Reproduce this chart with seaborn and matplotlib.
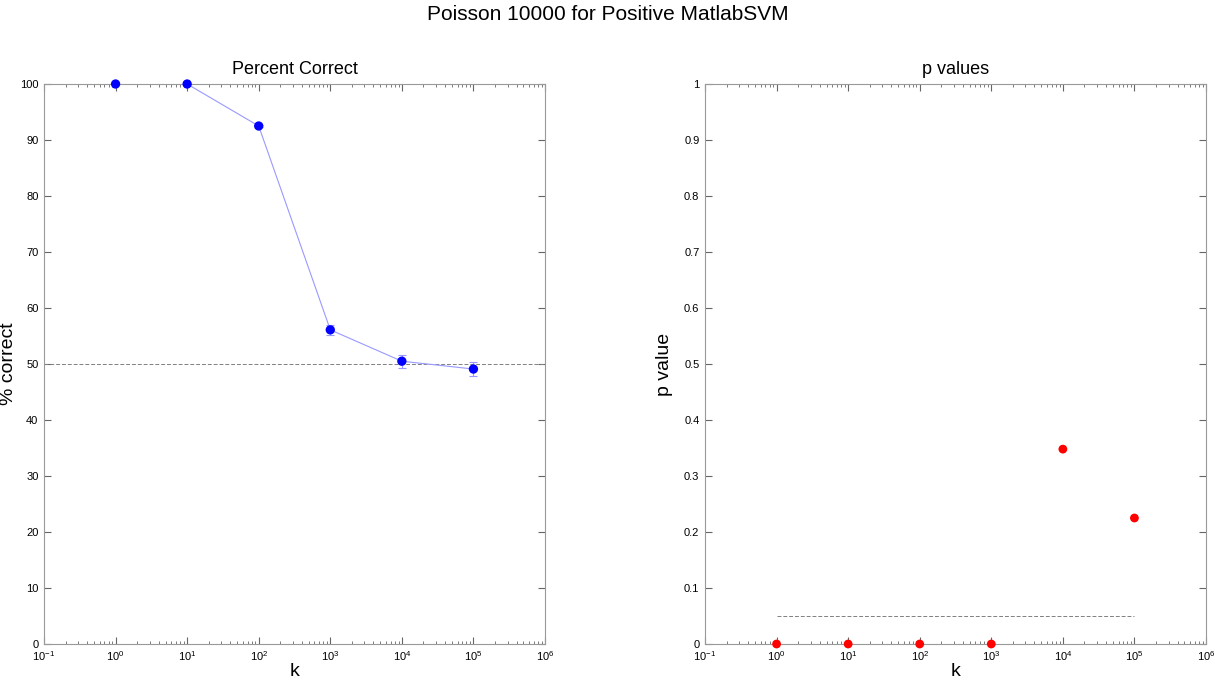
import numpy as np
import pandas as pd
import matplotlib
matplotlib.use('Agg')
import matplotlib.pyplot as plt
import seaborn as sns
from matplotlib.ticker import LogLocator, FixedLocator

sns.set_style("ticks")
plt.rcParams['font.family'] = ['Liberation Sans', 'DejaVu Sans']
plt.rcParams['text.color'] = 'black'
plt.rcParams['axes.labelcolor'] = 'black'
plt.rcParams['xtick.labelcolor'] = 'black'
plt.rcParams['ytick.labelcolor'] = 'black'

k = [1, 10, 100, 1000, 10000, 100000]
pct = [100.0, 100.0, 92.5, 56.1, 50.5, 49.1]
pct_err = [0.0, 0.0, 0.2, 0.9, 1.15, 1.2]
pvals = [0.0, 0.0, 0.0, 0.0, 0.348, 0.225]
chance = 50
alpha = 0.05

df = pd.DataFrame({'k': k, 'pct': pct, 'err': pct_err, 'p': pvals})

fig = plt.figure(figsize=(12.15, 6.86), dpi=100)
ax1 = fig.add_axes([44/1215, 1-644/686, 501/1215, 560/686])
ax2 = fig.add_axes([705/1215, 1-644/686, 501/1215, 560/686])

# left: percent correct
ax1.axhline(chance, color='#808080', ls=(0, (4, 2)), lw=0.7, zorder=1)
ax1.errorbar(df['k'], df['pct'], yerr=df['err'], fmt='none', ecolor='#9999ff',
             elinewidth=0.8, capsize=3, capthick=0.8, zorder=2)
sns.lineplot(data=df, x='k', y='pct', ax=ax1, color='#9999ff', lw=0.8, zorder=2)
sns.scatterplot(data=df, x='k', y='pct', ax=ax1, color='#0000ff', s=45,
                edgecolor='none', zorder=3, clip_on=False)
ax1.set_ylim(0, 100)
ax1.set_yticks(np.arange(0, 101, 10))
ax1.set_yticklabels([str(v) for v in range(0, 101, 10)])
ax1.set_title('Percent Correct', fontsize=13, pad=7)
ax1.set_ylabel('% correct', fontsize=14, labelpad=2)

# right: p values
ax2.plot([k[0], k[-1]], [alpha, alpha], color='#808080', ls=(0, (4, 2)), lw=0.7, zorder=1)
sns.scatterplot(data=df, x='k', y='p', ax=ax2, color='#ff0000', s=40,
                edgecolor='none', zorder=3, clip_on=False)
ax2.set_ylim(0, 1)
ax2.set_yticks(np.round(np.arange(0, 1.01, 0.1), 1))
ax2.set_yticklabels(['0'] + ['%g' % round(v, 1) for v in np.arange(0.1, 1.01, 0.1)])
ax2.set_title('p values', fontsize=13, pad=7)
ax2.set_ylabel('p value', fontsize=14, labelpad=8)

for ax in (ax1, ax2):
    ax.set_xscale('log')
    ax.set_xlim(0.1, 1e6)
    ax.xaxis.set_major_locator(FixedLocator([10.0**e for e in range(-1, 7)]))
    ax.xaxis.set_minor_locator(LogLocator(base=10, subs=np.arange(2, 10), numticks=20))
    ax.set_xlabel('k', fontsize=14, labelpad=0)
    ax.tick_params(which='both', direction='in', top=True, right=True,
                   labelsize=8, color='#666666', pad=4)
    ax.tick_params(which='major', length=5)
    ax.tick_params(which='minor', length=2.5)
    for s in ax.spines.values():
        s.set_color('#999999')
        s.set_linewidth(0.8)

fig.suptitle('Poisson 10000 for Positive MatlabSVM', fontsize=15, y=0.993)
fig.savefig('out.png', dpi=100)
